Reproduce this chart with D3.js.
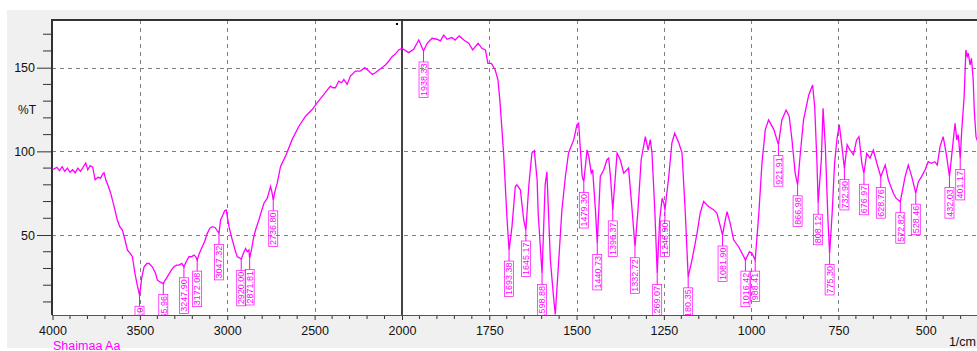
<!DOCTYPE html>
<html><head><meta charset="utf-8">
<script src="https://cdn.jsdelivr.net/npm/d3@7"></script>
<style>body{margin:0;background:#fff;} svg{display:block;}</style>
</head><body>
<svg id="c" width="977" height="351"></svg>
<script>
const wavenumbers = [4000,3990,3975,3960,3945,3930,3915,3900,3885,3870,3855,3840,3825,3810,3798,3785,3770,3756,3740,3725,3712,3705,3695,3680,3667,3650,3629,3615,3600,3585,3571,3555,3543,3528,3515,3508,3502.1,3495,3490,3476,3460,3448,3429,3410,3400,3385,3365.96,3355,3343,3320,3305,3290,3276,3260,3247.9,3235,3219,3205,3190,3180,3172.08,3160,3143,3130,3114,3100,3086,3070,3060,3047.32,3038,3025,3015,3006,2998,2990,2971,2955,2943,2932,2920,2908,2895,2885,2876,2871.81,2860,2850,2838,2819,2805,2790,2771,2752,2745,2736.8,2725,2714,2695,2667,2629,2590,2552,2514,2486,2447,2425,2410,2395,2381,2362,2345,2333,2314,2295,2267,2238,2213,2190,2170,2152,2133,2115,2095,2075,2057,2040,2019,2000,1981,1966.5,1952,1938.33,1928,1914,1900,1890,1880.6,1871,1857,1848,1836,1823,1809,1797.5,1782,1771,1761,1754,1744,1733,1725,1719,1709,1699,1693.38,1685,1675.5,1671,1661,1651.4,1645.17,1637,1628,1621,1613,1610,1598.88,1590,1585,1575,1566,1561,1551,1542,1532,1523,1508,1499,1494,1489,1484,1479.3,1470,1465,1458,1454,1446,1440.73,1432,1422,1413,1408,1403,1396.37,1389,1384,1375,1365,1351,1341,1332.72,1324,1315,1303,1295,1289,1284,1276,1269.07,1262,1255,1250,1246.9,1236,1227,1219,1207,1198,1189,1180.35,1169.5,1155,1146,1136,1122,1107,1098,1088,1081.9,1074,1069,1060,1050,1036,1021,1016.42,1005,997.5,988.41,978,969,959.5,950,935,921.91,912,900,891,883,874,866.98,860,850,835,824,818,811.5,808.12,799,794,787.5,780,775.3,768,761,754,747.5,740,732.9,725,717,707,698,691,683,676.97,669,659.5,650,640,628.76,616,607,592.6,585,572.82,559,550,540,528.46,521,512,502,493,483,474,467,459,450,440,432.03,423,416,411,407,401.17,397,390,385,381,378,373,369,364,361,356,350];
const transmittance = [89.3,89.5,90.5,88.5,90.8,88,90,87.5,89,87.2,90,88,90.5,93,89,91.5,90.5,83,84.5,84,86.5,87.2,83,79,75,68,59,55,53,47,41,39,37,27,20,17,14,19,24,31,33,33,31,27,23,22,21,23,25,29,31,32,32,33,31,34,37,37,38,37,35,39,43,46,51,54,55,54.5,53,51,59,62,64.5,65,60,55,47,41,37,36.5,35.5,39,42,40,41,36,42,48,53,59,64,69,72,79,76,71,77,81,91,97,107,115,121,125,129,134,137,139,138,138,142,141,143,140,145,148,148,150,148,146,147,148.6,150,151.6,154,156.6,158,160.6,161.6,159,161,166.6,160,164.6,167.6,167,166,169.5,167,168,166.5,169,166.6,164.6,160.6,164.6,161.6,160.6,152.6,152.6,148.6,142.6,128.7,98.8,59,41,55,79,80,77,59,53,79,99,100.4,83,63,27,80,87.8,35,13,2.5,35,65,85,99,107,115.8,116.8,100.8,85,82,100.8,97,87,89,65,45,85,89,95,96,85,65,85,99,95,87,90,65,43,65,95,108.8,100.8,107,99,65,27,59,72,69,65,85,105,110.8,105,99,65,25,35,51,63,70,67,65,63,55,50,59,64,57,47,43,37,35,40,39,35,63,93,113,118.8,113,104,118.8,124.7,120.8,106.8,87,80,96.8,118.8,133.7,139.7,126.7,93,69,95,125.7,102.8,59,39,63,93,107.8,115.8,102.8,89.8,104,100.8,98,106.8,108.8,92.9,86.9,98.8,96,100.8,92.9,84.9,91.8,82.9,75,72,69.9,84.9,91.8,84.9,75,81.9,84.9,88.9,93.8,92.9,93.8,91.8,102.8,108.8,97,84.9,102.8,116.8,106.8,110,95.8,112,132.7,160.6,156.7,158.6,151.6,155.6,142.6,124.7,108.8,105];
const peakLabels = ["3502.10","3365.96","3247.90","3172.08","3047.32","2920.00","2871.81","2736.80","1938.33","1693.38","1645.17","1598.88","1479.30","1440.73","1396.37","1332.72","1269.07","1246.90","1180.35","1081.90","1016.42","988.41","921.91","866.98","808.12","775.30","732.90","676.97","628.76","572.82","528.46","432.03","401.17"];
const xTickValues = [4000,3500,3000,2500,2000,1750,1500,1250,1000,750,500];
const xGridValues = [3500,3000,2500,1750,1500,1250,1000,750,500];
const yTickValues = [50,100,150];
const xTitle = "1/cm", yTitle = "%T", sampleName = "Shaimaa Aa";

const svg = d3.select('#c');
const L = 52, T = 20, R = 977, B = 315;
const x = d3.scaleLinear().domain([4000, 2000, 350]).range([52.5, 402, 978.1]);
const y = d3.scaleLinear().domain([2.2, 178.5]).range([B, T]);
const FONT = "'Liberation Sans', Arial, sans-serif";
const MAG = "#ff00ff";

svg.append('rect').attr('x',7).attr('y',10).attr('width',970).attr('height',338).attr('fill','#f0f0f0');
svg.append('rect').attr('x',L).attr('y',T).attr('width',R-L).attr('height',B-T).attr('fill','#fff');

svg.append('clipPath').attr('id','clip').append('rect').attr('x',L).attr('y',T).attr('width',R-L).attr('height',B-T);

// grid
const grid = svg.append('g');
grid.selectAll('line.gx').data(xGridValues).join('line')
  .attr('x1',d=>Math.round(x(d))+0.5).attr('x2',d=>Math.round(x(d))+0.5).attr('y1',T).attr('y2',B)
  .attr('stroke','#808080').attr('stroke-dasharray','4,4');
grid.selectAll('line.gy').data(yTickValues).join('line')
  .attr('x1',L).attr('x2',R).attr('y1',d=>Math.round(y(d))+0.5).attr('y2',d=>Math.round(y(d))+0.5)
  .attr('stroke','#808080').attr('stroke-dasharray','4,4');
// solid line at 2000
svg.append('line').attr('x1',x(2000)).attr('x2',x(2000)).attr('y1',T).attr('y2',B).attr('stroke','#444').attr('stroke-width',2);
svg.append('rect').attr('x',x(2000)-6).attr('y',23).attr('width',2).attr('height',2).attr('fill','#000');

// axes
const xMinor = d3.range(3900, 2000, -100).concat(d3.range(1950, 349, -50));
const xAx = d3.axisBottom(x).tickValues(xTickValues).tickSize(5).tickSizeOuter(0).tickFormat(d3.format('d'));
const gx = svg.append('g').attr('transform',`translate(0,${B})`).call(xAx);
gx.select('.domain').remove();
gx.selectAll('line').attr('stroke','#333');
gx.selectAll('text').attr('font-family',FONT).attr('font-size',12.5).attr('fill','#111').attr('dy','0.95em');
svg.append('g').selectAll('line').data(xMinor.filter(d=>!xTickValues.includes(d))).join('line')
  .attr('x1',d=>x(d)).attr('x2',d=>x(d)).attr('y1',B).attr('y2',B+4).attr('stroke','#333');

const yAx = d3.axisLeft(y).tickValues(yTickValues).tickSize(15).tickSizeOuter(0);
const gy = svg.append('g').attr('transform',`translate(${L},0)`).call(yAx);
gy.select('.domain').remove();
gy.selectAll('line').attr('stroke','#333');
gy.selectAll('text').attr('font-family',FONT).attr('font-size',12.5).attr('fill','#111').attr('x',-17);
svg.append('g').selectAll('line').data(d3.range(10,171,10).filter(d=>!yTickValues.includes(d))).join('line')
  .attr('x1',L-9).attr('x2',L).attr('y1',d=>y(d)).attr('y2',d=>y(d)).attr('stroke','#333');

// frame
svg.append('line').attr('x1',L).attr('x2',R).attr('y1',T).attr('y2',T).attr('stroke','#333').attr('stroke-width',2);
svg.append('line').attr('x1',L).attr('x2',L).attr('y1',T-1).attr('y2',B).attr('stroke','#333').attr('stroke-width',2);
svg.append('line').attr('x1',L).attr('x2',R).attr('y1',B+0.5).attr('y2',B+0.5).attr('stroke','#555');

// titles
svg.append('text').attr('x',27).attr('y',114).attr('text-anchor','middle').attr('font-family',FONT).attr('font-size',12).attr('fill','#111').text(yTitle);
svg.append('text').attr('x',976).attr('y',346).attr('text-anchor','end').attr('font-family',FONT).attr('font-size',12.5).attr('fill','#111').text(xTitle);
svg.append('text').attr('x',53).attr('y',349.5).attr('font-family',FONT).attr('font-size',12.5).attr('fill',MAG).text(sampleName);

// spectrum
const pts = wavenumbers.map((w,i)=>[w, transmittance[i]]);
const plot = svg.append('g').attr('clip-path','url(#clip)');
plot.append('path').datum(pts)
  .attr('d', d3.line().x(d=>x(d[0])).y(d=>y(d[1])))
  .attr('fill','none').attr('stroke',MAG).attr('stroke-width',1.3);

// peak labels
const tAt = new Map(pts);
peakLabels.forEach(lbl => {
  const w = +lbl, t = tAt.get(w);
  const px = x(w), py = y(t), top = py + 11;
  plot.append('line').attr('x1',px).attr('x2',px).attr('y1',py).attr('y2',top).attr('stroke',MAG).attr('stroke-width',1);
  const gl = plot.append('g').attr('transform',`translate(${px},${top}) rotate(-90)`);
  const txt = gl.append('text').attr('text-anchor','end').attr('x',-1.5).attr('dy','0.36em')
    .attr('font-family',FONT).attr('font-size',9).attr('fill',MAG).text(lbl);
  const len = txt.node().getComputedTextLength();
  gl.insert('rect','text').attr('x',-len-3).attr('y',-4.5).attr('width',len+3).attr('height',9)
    .attr('fill','none').attr('stroke',MAG).attr('stroke-width',0.7);
});
</script>
</body></html>
